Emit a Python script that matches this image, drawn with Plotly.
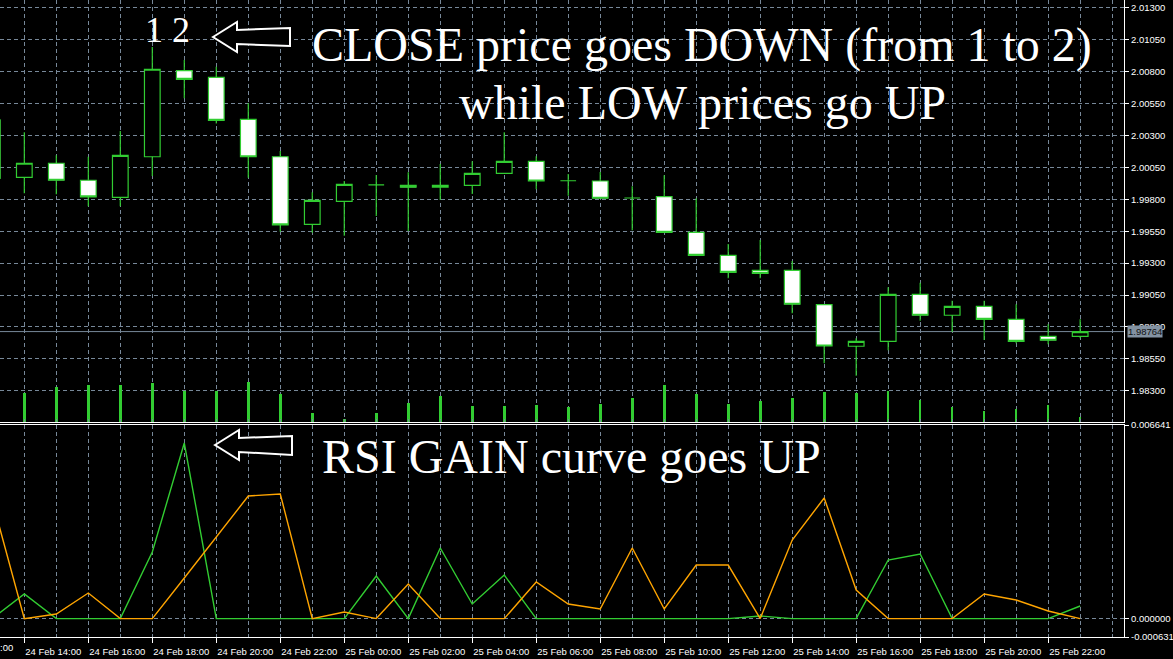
import pandas as pd
import plotly.graph_objects as go

# hourly bars, 24 Feb 13:00 -> 25 Feb 23:00
TIMES = pd.date_range("2011-02-24 13:00", periods=35, freq="h")

OPEN = [2.00421, 1.99972, 2.00082, 1.99949, 1.99815, 2.00133, 2.00807, 2.00755, 2.00426, 2.00133,
        1.99604, 1.99784, 1.99912, 1.99909, 1.99894, 1.99909, 2.00003, 2.00097, 1.99945, 1.99943,
        1.99810, 1.99820, 1.99541, 1.99361, 1.99244, 1.99244, 1.98975, 1.98649, 1.98688, 1.99056,
        1.98892, 1.98962, 1.98860, 1.98727, 1.98727]
HIGH = [2.00499, 2.00324, 2.00144, 2.00133, 2.00335, 2.00992, 2.00890, 2.00838, 2.00551, 2.00178,
        1.99855, 1.99943, 1.99990, 2.00011, 2.00076, 2.00097, 2.00324, 2.00136, 1.99998, 2.00014,
        1.99902, 1.99988, 1.99808, 1.99450, 1.99481, 1.99317, 1.98975, 1.98711, 1.99111, 1.99147,
        1.99006, 1.99006, 1.98978, 1.98821, 1.98860]
LOW = [1.99912, 1.99847, 1.99839, 1.99745, 1.99745, 1.99982, 2.00591, 2.00393, 1.99969, 1.99546,
       1.99538, 1.99515, 1.99669, 1.99552, 1.99794, 1.99841, 2.00003, 1.99878, 1.99828, 1.99808,
       1.99557, 1.99541, 1.99361, 1.99181, 1.99181, 1.98907, 1.98516, 1.98419, 1.98617, 1.98849,
       1.98761, 1.98698, 1.98672, 1.98664, 1.98711]
CLOSE = [1.99964, 2.00082, 1.99949, 1.99818, 2.00144, 2.00818, 2.00739, 2.00418, 2.00133, 1.99599,
         1.99792, 1.99917, 1.99912, 1.99894, 1.99909, 2.00003, 2.00097, 1.99943, 1.99945, 1.99808,
         1.99810, 1.99541, 1.99361, 1.99228, 1.99220, 1.98978, 1.98651, 1.98688, 1.99056, 1.98892,
         1.98962, 1.98860, 1.98688, 1.98696, 1.98764]
VOLUME = [600, 880, 1060, 1120, 1120, 1180, 940, 920, 1210, 850,
          280, 100, 270, 580, 770, 490, 490, 520, 460, 550,
          730, 1120, 850, 550, 640, 730, 910, 880, 940, 670,
          460, 340, 400, 520, 160]

RSI_GAIN = [0.0, 0.000844, 0.0, 0.0, 0.0, 0.002284, 0.006023, 0.0, 0.0, 0.0,
            0.0, 0.0, 0.001461, 0.0, 0.002422, 0.000501, 0.001495, 0.0, 0.0, 0.0,
            0.0, 0.0, 0.0, 0.0, 0.000089, 0.0, 0.0, 0.0, 0.00201, 0.002216,
            0.0, 0.0, 0.0, 0.0, 0.000432]
RSI_LOSS = [0.004044, 0.0, 0.000158, 0.000878, 0.0, 0.0, 0.001393, 0.002799, 0.004205, 0.004274,
            0.0, 0.000226, 0.0, 0.001187, 0.0, 0.0, 0.0, 0.001255, 0.000501, 0.000329,
            0.002422, 0.000329, 0.001838, 0.001838, 0.0, 0.002696, 0.004137, 0.000981, 0.0, 0.0,
            0.0, 0.000844, 0.000638, 0.000261, 0.0]

RSI_TICKS = [0.006641, 0.0, -0.000631]

GREEN = "#32CD32"
GRID = "#778899"
W, H = 1173, 659
PW, PH = 1124, 637  # plot area in px


def px(x, y):
    return x / PW, (PH - y) / PH


hour = pd.Timedelta(hours=1)
xrange = [TIMES[0] + 0.24 * hour, TIMES[0] + 35.37 * hour]
label_times = list(TIMES[1::2])
grid_times = list(TIMES) + [TIMES[-1] + hour]

fig = go.Figure()

fig.add_trace(go.Bar(x=TIMES, y=VOLUME, yaxis="y3", xaxis="x", marker_color=GREEN,
                     marker_line_width=0, width=2.6 / 32 * 3600 * 1000, hoverinfo="skip"))

fig.add_trace(go.Candlestick(
    x=TIMES, open=OPEN, high=HIGH, low=LOW, close=CLOSE, xaxis="x", yaxis="y",
    increasing=dict(line=dict(color=GREEN, width=1.2), fillcolor="black"),
    decreasing=dict(line=dict(color=GREEN, width=1.2), fillcolor="white"),
    whiskerwidth=0, hoverinfo="skip"))

fig.add_trace(go.Scatter(x=TIMES, y=RSI_GAIN, xaxis="x2", yaxis="y2", mode="lines",
                         line=dict(color=GREEN, width=1.4), hoverinfo="skip"))
fig.add_trace(go.Scatter(x=TIMES, y=RSI_LOSS, xaxis="x2", yaxis="y2", mode="lines",
                         line=dict(color="#FFA500", width=1.4), hoverinfo="skip"))

tickfont = dict(family="Liberation Sans", size=9.5, color="white")
grid = dict(showgrid=True, gridcolor=GRID, griddash="4px,3px", gridwidth=1)
xcommon = dict(type="date", range=xrange, tickmode="array", tickvals=label_times,
               tickformat="%d %b %H:%M", zeroline=False,
               minor=dict(tickmode="array", tickvals=grid_times, showgrid=True, gridcolor=GRID,
                          griddash="4px,3px", ticks="inside", ticklen=3, tickcolor=GRID),
               **grid)

main_bottom = (PH - 422) / PH
low_top = (PH - 425) / PH

fig.update_layout(
    width=W, height=H,
    margin=dict(l=0, r=W - PW, t=0, b=H - PH),
    paper_bgcolor="black", plot_bgcolor="black",
    showlegend=False, hovermode=False, bargap=0,
    xaxis=dict(domain=[0, 1], anchor="y", showticklabels=False, ticks="",
               showline=True, linecolor="white", linewidth=1.2,
               rangeslider=dict(visible=False), **xcommon),
    xaxis2=dict(domain=[0, 1], anchor="y2", showticklabels=True, ticks="outside",
                ticklen=5, tickcolor="white", tickfont=tickfont, ticklabelshift=29,
                showline=True, linecolor="white", linewidth=1.2, mirror=True, **xcommon),
    yaxis=dict(domain=[main_bottom, 1], side="right", anchor="x",
               range=[1.98056, 2.013603], tick0=1.983, dtick=0.0025, tickformat=".5f",
               ticks="outside", ticklen=4, tickcolor="white", tickfont=tickfont,
               showline=True, linecolor="white", linewidth=1.2, zeroline=False,
               automargin=False, **grid),
    yaxis2=dict(domain=[0, low_top], side="right", anchor="x2",
                range=[RSI_TICKS[2], RSI_TICKS[0]], tickmode="array", tickvals=RSI_TICKS,
                ticktext=[f"{v:.6f}" for v in RSI_TICKS],
                ticks="outside", ticklen=4, tickcolor="white", tickfont=tickfont,
                showline=True, linecolor="white", linewidth=1.2, zeroline=False,
                automargin=False, **grid),
    yaxis3=dict(overlaying="y", anchor="x", range=[0, 12660], visible=False),
)

# bid line and price tag
fig.add_shape(type="line", xref="paper", x0=0, x1=1, yref="y", y0=CLOSE[-1], y1=CLOSE[-1],
              line=dict(color=GRID, width=1), layer="between")
fig.add_annotation(xref="paper", x=1.0, xanchor="left", xshift=3, yref="y", y=CLOSE[-1],
                   text=f"{CLOSE[-1]:.5f}", showarrow=False, bgcolor="#8392a2",
                   font=dict(family="Liberation Sans", size=9.5, color="#111111"),
                   borderpad=0)

# partial first time label
fig.add_annotation(xref="paper", x=px(15, 0)[0], xanchor="right", yref="paper", y=0,
                   yanchor="top", yshift=-3, text=":00", showarrow=False, font=tickfont)

serif = dict(family="Liberation Serif", color="white")
for text, cx, cy, size in [("1 2", 167, 30, 36),
                           ("CLOSE price goes DOWN (from 1 to 2)", 702, 45, 48),
                           ("while LOW prices go UP", 702, 103, 48),
                           ("RSI GAIN curve goes UP", 571, 456, 48)]:
    x, y = px(cx, cy)
    fig.add_annotation(xref="paper", yref="paper", x=x, y=y, xanchor="center", yanchor="middle",
                       text=text, showarrow=False, font=dict(size=size, **serif))


def arrow(tipx, tipy, dy):
    pts = [(tipx, tipy), (tipx + 24, tipy - 15), (tipx + 24, tipy - 7), (tipx + 77, tipy - 9),
           (tipx + 77, tipy + 9 + dy), (tipx + 24, tipy + 7), (tipx + 24, tipy + 15)]
    path = "M " + " L ".join(f"{px(a, b)[0]:.5f},{px(a, b)[1]:.5f}" for a, b in pts) + " Z"
    fig.add_shape(type="path", xref="paper", yref="paper", path=path,
                  line=dict(color="white", width=2), fillcolor="black", layer="above")


arrow(213, 37, 0)
arrow(215, 445, 1)

# page body has a default 8px margin; remove it so the chart sits at the top-left corner
fig.write_html("out.html", config={"displayModeBar": False},
               post_script="document.body.style.margin='0';")
